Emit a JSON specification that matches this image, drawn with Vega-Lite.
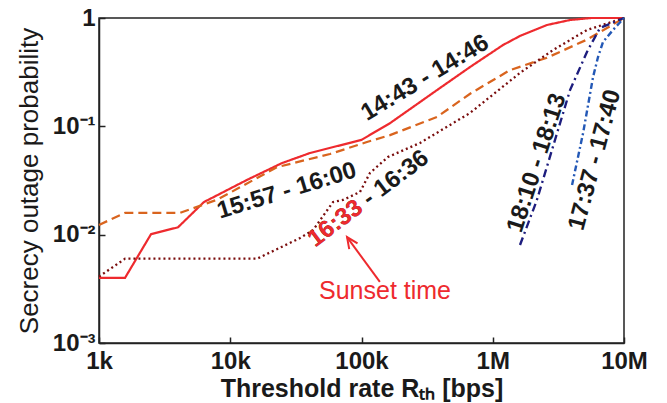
{
  "$schema": "https://vega.github.io/schema/vega-lite/v6.json",
  "width": 525,
  "height": 325,
  "autosize": "none",
  "padding": {"left": 99, "top": 18, "right": 43, "bottom": 60},
  "background": "white",
  "config": {
    "view": {"stroke": "#222222", "strokeWidth": 1.5},
    "font": "Liberation Sans",
    "axis": {"grid": false, "domainColor": "#222222", "domainWidth": 1.5, "tickColor": "#222222", "tickWidth": 1.5, "labelColor": "#1a1a1a", "titleColor": "#1a1a1a"}
  },
  "datasets": {
    "curves": [
      {"s": "14:43 - 14:46", "R": 1000, "P": 0.004},
      {"s": "14:43 - 14:46", "R": 1580, "P": 0.004},
      {"s": "14:43 - 14:46", "R": 2490, "P": 0.0101},
      {"s": "14:43 - 14:46", "R": 4000, "P": 0.0117},
      {"s": "14:43 - 14:46", "R": 6300, "P": 0.02},
      {"s": "14:43 - 14:46", "R": 13400, "P": 0.032},
      {"s": "14:43 - 14:46", "R": 24800, "P": 0.0458},
      {"s": "14:43 - 14:46", "R": 40500, "P": 0.0567},
      {"s": "14:43 - 14:46", "R": 100000, "P": 0.075},
      {"s": "14:43 - 14:46", "R": 165000, "P": 0.107},
      {"s": "14:43 - 14:46", "R": 376000, "P": 0.216},
      {"s": "14:43 - 14:46", "R": 672000, "P": 0.353},
      {"s": "14:43 - 14:46", "R": 1197000, "P": 0.563},
      {"s": "14:43 - 14:46", "R": 1610000, "P": 0.682},
      {"s": "14:43 - 14:46", "R": 2590000, "P": 0.862},
      {"s": "14:43 - 14:46", "R": 3880000, "P": 0.958},
      {"s": "14:43 - 14:46", "R": 5600000, "P": 1},
      {"s": "14:43 - 14:46", "R": 10000000, "P": 1},
      {"s": "15:57 - 16:00", "R": 1000, "P": 0.0123},
      {"s": "15:57 - 16:00", "R": 1580, "P": 0.0159},
      {"s": "15:57 - 16:00", "R": 4140, "P": 0.0159},
      {"s": "15:57 - 16:00", "R": 7940, "P": 0.021},
      {"s": "15:57 - 16:00", "R": 22700, "P": 0.042},
      {"s": "15:57 - 16:00", "R": 57500, "P": 0.0555},
      {"s": "15:57 - 16:00", "R": 110000, "P": 0.0716},
      {"s": "15:57 - 16:00", "R": 165000, "P": 0.083},
      {"s": "15:57 - 16:00", "R": 376000, "P": 0.122},
      {"s": "15:57 - 16:00", "R": 672000, "P": 0.2},
      {"s": "15:57 - 16:00", "R": 1350000, "P": 0.33},
      {"s": "15:57 - 16:00", "R": 2590000, "P": 0.43},
      {"s": "15:57 - 16:00", "R": 5200000, "P": 0.63},
      {"s": "15:57 - 16:00", "R": 10000000, "P": 1},
      {"s": "16:33 - 16:36", "R": 1000, "P": 0.0041},
      {"s": "16:33 - 16:36", "R": 1580, "P": 0.006},
      {"s": "16:33 - 16:36", "R": 16000, "P": 0.006},
      {"s": "16:33 - 16:36", "R": 34000, "P": 0.0093},
      {"s": "16:33 - 16:36", "R": 42700, "P": 0.011},
      {"s": "16:33 - 16:36", "R": 60700, "P": 0.02},
      {"s": "16:33 - 16:36", "R": 72300, "P": 0.0209},
      {"s": "16:33 - 16:36", "R": 97400, "P": 0.0248},
      {"s": "16:33 - 16:36", "R": 116000, "P": 0.0371},
      {"s": "16:33 - 16:36", "R": 159000, "P": 0.0521},
      {"s": "16:33 - 16:36", "R": 279000, "P": 0.0702},
      {"s": "16:33 - 16:36", "R": 672000, "P": 0.133},
      {"s": "16:33 - 16:36", "R": 1610000, "P": 0.311},
      {"s": "16:33 - 16:36", "R": 2880000, "P": 0.506},
      {"s": "16:33 - 16:36", "R": 5220000, "P": 0.775},
      {"s": "16:33 - 16:36", "R": 10000000, "P": 1},
      {"s": "18:10 - 18:13", "R": 1613000, "P": 0.00803},
      {"s": "18:10 - 18:13", "R": 2170000, "P": 0.0209},
      {"s": "18:10 - 18:13", "R": 3880000, "P": 0.216},
      {"s": "18:10 - 18:13", "R": 5220000, "P": 0.486},
      {"s": "18:10 - 18:13", "R": 6560000, "P": 0.809},
      {"s": "18:10 - 18:13", "R": 10000000, "P": 1},
      {"s": "17:37 - 17:40", "R": 4020000, "P": 0.0287},
      {"s": "17:37 - 17:40", "R": 4880000, "P": 0.0868},
      {"s": "17:37 - 17:40", "R": 5810000, "P": 0.285},
      {"s": "17:37 - 17:40", "R": 6340000, "P": 0.436},
      {"s": "17:37 - 17:40", "R": 6920000, "P": 0.6},
      {"s": "17:37 - 17:40", "R": 8240000, "P": 0.775},
      {"s": "17:37 - 17:40", "R": 10000000, "P": 1}
    ],
    "arrow": [
      {"R": 138000, "P": 0.00366},
      {"R": 77600, "P": 0.0095}
    ]
  },
  "layer": [
    {
      "data": {"name": "curves"},
      "mark": {"type": "line", "clip": false},
      "encoding": {
        "x": {
          "field": "R", "type": "quantitative",
          "scale": {"type": "log", "domain": [1000, 10000000], "nice": false},
          "axis": {
            "values": [1000, 10000, 100000, 1000000, 10000000],
            "labelExpr": "datum.value == 1000 ? '1k' : datum.value == 10000 ? '10k' : datum.value == 100000 ? '100k' : datum.value == 1000000 ? '1M' : '10M'",
            "tickSize": -6,
            "labelPadding": 12,
            "labelFontSize": 24,
            "labelFontWeight": "bold",
            "labelFlush": false,
            "labelOverlap": false,
            "title": "Threshold rate Rₜₕ [bps]",
            "titleFontSize": 25,
            "titleFontWeight": "bold",
            "titlePadding": 3
          }
        },
        "y": {
          "field": "P", "type": "quantitative",
          "scale": {"type": "log", "domain": [0.001, 1], "nice": false},
          "axis": {
            "values": [0.001, 0.01, 0.1, 1],
            "labelExpr": "datum.value == 1 ? '1' : datum.value == 0.1 ? '10⁻¹' : datum.value == 0.01 ? '10⁻²' : '10⁻³'",
            "tickSize": -6,
            "labelPadding": 10,
            "labelFontSize": 24,
            "labelFontWeight": "bold",
            "labelFlush": false,
            "labelOverlap": false,
            "title": "Secrecy outage probability",
            "titleFontSize": 26,
            "titleFontWeight": "normal",
            "titlePadding": 10
          }
        },
        "color": {
          "field": "s", "type": "nominal", "legend": null,
          "scale": {
            "domain": ["14:43 - 14:46", "15:57 - 16:00", "16:33 - 16:36", "18:10 - 18:13", "17:37 - 17:40"],
            "range": ["#ee2a2e", "#d9641e", "#7a0d0d", "#1d1d7e", "#2358b6"]
          }
        },
        "strokeDash": {
          "field": "s", "type": "nominal", "legend": null,
          "scale": {
            "domain": ["14:43 - 14:46", "15:57 - 16:00", "16:33 - 16:36", "18:10 - 18:13", "17:37 - 17:40"],
            "range": [[1, 0], [9, 5], [2, 3], [8, 4, 2, 4], [6, 3, 2, 3]]
          }
        },
        "strokeWidth": {
          "field": "s", "type": "nominal", "legend": null,
          "scale": {
            "domain": ["14:43 - 14:46", "15:57 - 16:00", "16:33 - 16:36", "18:10 - 18:13", "17:37 - 17:40"],
            "range": [2.2, 2.4, 2.4, 1.6, 1.6]
          }
        }
      }
    },
    {
      "data": {"values": [{"R": 305000, "P": 0.279, "t": "14:43 - 14:46"}]},
      "mark": {"type": "text", "angle": -31, "align": "center", "baseline": "middle", "fontSize": 24, "fontWeight": "bold", "color": "#1a1a1a"},
      "encoding": {"x": {"field": "R", "type": "quantitative"}, "y": {"field": "P", "type": "quantitative"}, "text": {"field": "t"}}
    },
    {
      "data": {"values": [{"R": 27000, "P": 0.0253, "t": "15:57 - 16:00"}]},
      "mark": {"type": "text", "angle": -17, "align": "center", "baseline": "middle", "fontSize": 24, "fontWeight": "bold", "color": "#1a1a1a"},
      "encoding": {"x": {"field": "R", "type": "quantitative"}, "y": {"field": "P", "type": "quantitative"}, "text": {"field": "t"}}
    },
    {
      "data": {"values": [{"R": 41200, "P": 0.00855, "t": "16:33 - 16:36"}]},
      "mark": {"type": "text", "angle": -37, "align": "left", "baseline": "middle", "fontSize": 24, "fontWeight": "bold", "color": "#1a1a1a"},
      "encoding": {"x": {"field": "R", "type": "quantitative"}, "y": {"field": "P", "type": "quantitative"}, "text": {"field": "t"}}
    },
    {
      "data": {"values": [{"R": 41200, "P": 0.00855, "t": "16:33"}]},
      "mark": {"type": "text", "angle": -37, "align": "left", "baseline": "middle", "fontSize": 24, "fontWeight": "bold", "color": "#ee2a2e"},
      "encoding": {"x": {"field": "R", "type": "quantitative"}, "y": {"field": "P", "type": "quantitative"}, "text": {"field": "t"}}
    },
    {
      "data": {"values": [{"R": 2170000, "P": 0.0459, "t": "18:10 - 18:13"}]},
      "mark": {"type": "text", "angle": -72, "align": "center", "baseline": "middle", "fontSize": 24, "fontWeight": "bold", "color": "#1a1a1a"},
      "encoding": {"x": {"field": "R", "type": "quantitative"}, "y": {"field": "P", "type": "quantitative"}, "text": {"field": "t"}}
    },
    {
      "data": {"values": [{"R": 6010000, "P": 0.0489, "t": "17:37 - 17:40"}]},
      "mark": {"type": "text", "angle": -75, "align": "center", "baseline": "middle", "fontSize": 24, "fontWeight": "bold", "color": "#1a1a1a"},
      "encoding": {"x": {"field": "R", "type": "quantitative"}, "y": {"field": "P", "type": "quantitative"}, "text": {"field": "t"}}
    },
    {
      "data": {"values": [{"R": 151000, "P": 0.00302, "t": "Sunset time"}]},
      "mark": {"type": "text", "align": "center", "baseline": "middle", "fontSize": 25, "fontWeight": "normal", "color": "#ee2a2e"},
      "encoding": {"x": {"field": "R", "type": "quantitative"}, "y": {"field": "P", "type": "quantitative"}, "text": {"field": "t"}}
    },
    {
      "data": {"name": "arrow"},
      "mark": {"type": "line", "color": "#ee2a2e", "strokeWidth": 2},
      "encoding": {"x": {"field": "R", "type": "quantitative"}, "y": {"field": "P", "type": "quantitative"}}
    },
    {
      "data": {"name": "arrow"},
      "transform": [{"filter": "datum.R < 100000"}],
      "mark": {"type": "point", "shape": "M-0.45,1 L0,0 L0.45,1", "size": 500, "angle": -34.5, "filled": false, "stroke": "#ee2a2e", "strokeWidth": 2, "opacity": 1},
      "encoding": {"x": {"field": "R", "type": "quantitative"}, "y": {"field": "P", "type": "quantitative"}}
    }
  ]
}
